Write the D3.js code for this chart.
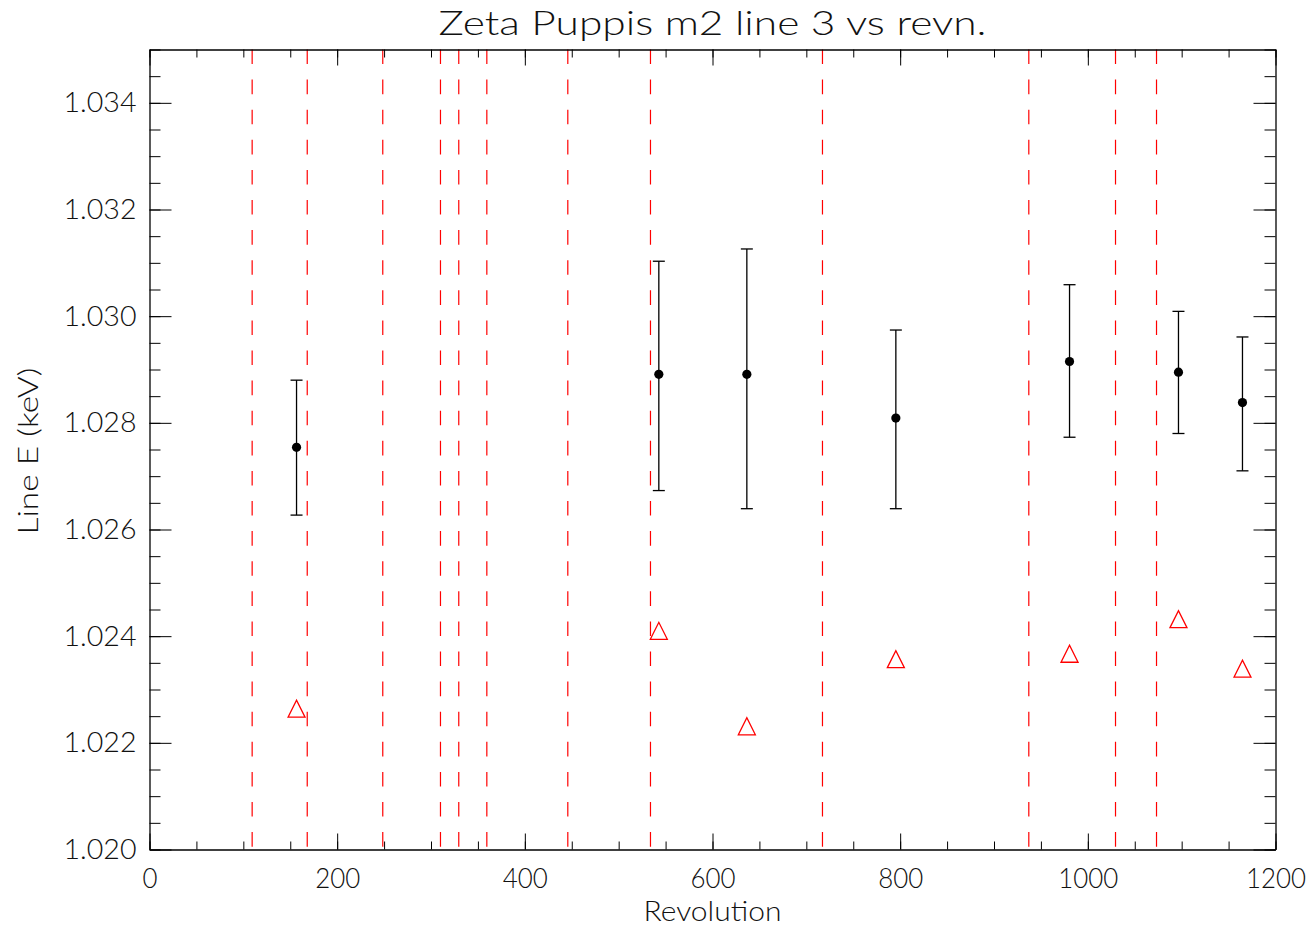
<!DOCTYPE html>
<html lang="en">
<head>
  <meta charset="UTF-8">
  <title>Zeta Puppis m2 line 3 vs revn.</title>
  <script src="https://d3js.org/d3.v7.min.js"></script>
  <style>
    body { margin: 0; background: white; }
    text { font-family: Lato, "DejaVu Sans", sans-serif; font-weight: 300; fill: #111; }
  </style>
</head>
<body>
  <svg id="chart" width="1314" height="928"></svg>
  <script>
    // revolution of each observation
    const revolution = [156.7, 542.8, 636.6, 795.4, 980.5, 1096.6, 1164.8];
    // fitted line energy (keV) with lower / upper error bounds
    const lineE     = [1.02754, 1.02891, 1.02891, 1.02809, 1.02915, 1.02895, 1.02838];
    const lineELow  = [1.02627, 1.02673, 1.02639, 1.02639, 1.02773, 1.02780, 1.02710];
    const lineEHigh = [1.02880, 1.03103, 1.03126, 1.02974, 1.03059, 1.03009, 1.02961];
    // second set (red triangles)
    const modelE    = [1.02264, 1.02410, 1.02231, 1.02357, 1.02367, 1.02432, 1.02339];
    // dashed vertical markers (revolution)
    const markerRevs = [109.4, 168.1, 248.6, 310.1, 329.6, 359.5, 445.8, 533.9, 717.2, 937.1, 1029.5, 1073.2];

    const xMajor = [0, 200, 400, 600, 800, 1000, 1200];
    const xMinor = d3.range(0, 1201, 50);
    const yMajor = [1.020, 1.022, 1.024, 1.026, 1.028, 1.030, 1.032, 1.034];
    const yMinor = d3.range(0, 31).map(i => 1.020 + i * 0.0005);

    const margin = {left: 149.5, top: 49.5};
    const width = 1126, height = 800;

    const svg = d3.select("#chart");
    const g = svg.append("g").attr("transform", `translate(${margin.left},${margin.top})`);

    const x = d3.scaleLinear().domain([0, 1200]).range([0, width]);
    const y = d3.scaleLinear().domain([1.020, 1.035]).range([height, 0]);

    // dashed markers
    g.append("g").selectAll("line").data(markerRevs).enter().append("line")
      .attr("x1", d => x(d)).attr("x2", d => x(d))
      .attr("y1", 0).attr("y2", height)
      .attr("stroke", "#ff0000").attr("stroke-width", 1.2)
      .attr("stroke-dasharray", "14.6 15.5");

    // axes, ticks pointing inwards
    function styleAxis(sel) {
      sel.selectAll(".domain").attr("stroke", "#000").attr("stroke-width", 1.3);
      sel.selectAll(".tick line").attr("stroke", "#000").attr("stroke-width", 1);
      sel.selectAll("text").attr("font-size", 28).attr("fill", "#111")
        .style("font-family", "Lato, 'DejaVu Sans', sans-serif").style("font-weight", 300);
    }

    g.append("g").attr("transform", `translate(0,${height})`)
      .call(d3.axisBottom(x).tickValues(xMinor).tickSize(-8).tickSizeOuter(0).tickFormat(""))
      .call(styleAxis);
    g.append("g").attr("transform", `translate(0,${height})`)
      .call(d3.axisBottom(x).tickValues(xMajor).tickSize(-16).tickSizeOuter(0).tickPadding(19).tickFormat(d3.format("d")))
      .call(styleAxis)
      .call(a => a.select(".domain").remove());
    g.append("g")
      .call(d3.axisTop(x).tickValues(xMinor).tickSize(-8).tickSizeOuter(0).tickFormat(""))
      .call(styleAxis);
    g.append("g")
      .call(d3.axisTop(x).tickValues(xMajor).tickSize(-16).tickSizeOuter(0).tickFormat(""))
      .call(styleAxis)
      .call(a => a.select(".domain").remove());

    g.append("g")
      .call(d3.axisLeft(y).tickValues(yMinor).tickSize(-11).tickSizeOuter(0).tickFormat(""))
      .call(styleAxis);
    g.append("g")
      .call(d3.axisLeft(y).tickValues(yMajor).tickSize(-22).tickSizeOuter(0).tickPadding(13).tickFormat(d3.format(".3f")))
      .call(styleAxis)
      .call(a => a.select(".domain").remove());
    g.append("g").attr("transform", `translate(${width},0)`)
      .call(d3.axisRight(y).tickValues(yMinor).tickSize(-11).tickSizeOuter(0).tickFormat(""))
      .call(styleAxis);
    g.append("g").attr("transform", `translate(${width},0)`)
      .call(d3.axisRight(y).tickValues(yMajor).tickSize(-22).tickSizeOuter(0).tickFormat(""))
      .call(styleAxis)
      .call(a => a.select(".domain").remove());

    // widen tick labels a little to look like the vector font
    g.selectAll(".tick text").each(function () {
      const n = this.textContent.length;
      if (n) d3.select(this).attr("textLength", n === 5 ? 73 : n * 15).attr("lengthAdjust", "spacingAndGlyphs");
    });

    // error bars
    const pts = revolution.map((r, i) => ({r, v: lineE[i], lo: lineELow[i], hi: lineEHigh[i], m: modelE[i]}));
    const eb = g.append("g").attr("stroke", "#000").attr("stroke-width", 1.3);
    eb.selectAll(".bar").data(pts).enter().append("line")
      .attr("x1", d => x(d.r)).attr("x2", d => x(d.r))
      .attr("y1", d => y(d.lo)).attr("y2", d => y(d.hi));
    eb.selectAll(".capHi").data(pts).enter().append("line")
      .attr("x1", d => x(d.r) - 6).attr("x2", d => x(d.r) + 6)
      .attr("y1", d => y(d.hi)).attr("y2", d => y(d.hi));
    eb.selectAll(".capLo").data(pts).enter().append("line")
      .attr("x1", d => x(d.r) - 6).attr("x2", d => x(d.r) + 6)
      .attr("y1", d => y(d.lo)).attr("y2", d => y(d.lo));

    g.append("g").selectAll("circle").data(pts).enter().append("circle")
      .attr("cx", d => x(d.r)).attr("cy", d => y(d.v)).attr("r", 4.6)
      .attr("fill", "#000");

    // red triangles
    const tri = 8.5;
    g.append("g").selectAll("path").data(pts).enter().append("path")
      .attr("d", d => {
        const cx = x(d.r), cy = y(d.m);
        return `M${cx - tri},${cy + tri}L${cx},${cy - tri}L${cx + tri},${cy + tri}Z`;
      })
      .attr("fill", "none").attr("stroke", "#ff0000").attr("stroke-width", 1.3);

    // titles
    svg.append("text").attr("x", margin.left + width / 2).attr("y", 35)
      .attr("text-anchor", "middle").attr("font-size", 33)
      .attr("textLength", 548).attr("lengthAdjust", "spacingAndGlyphs")
      .text("Zeta Puppis m2 line 3 vs revn.");

    svg.append("text").attr("x", margin.left + width / 2).attr("y", 921)
      .attr("text-anchor", "middle").attr("font-size", 27)
      .attr("textLength", 138).attr("lengthAdjust", "spacingAndGlyphs")
      .text("Revolution");

    svg.append("text").attr("transform", `translate(38,451) rotate(-90)`)
      .attr("text-anchor", "middle").attr("font-size", 28)
      .attr("textLength", 167).attr("lengthAdjust", "spacingAndGlyphs")
      .text("Line E (keV)");
  </script>
</body>
</html>
